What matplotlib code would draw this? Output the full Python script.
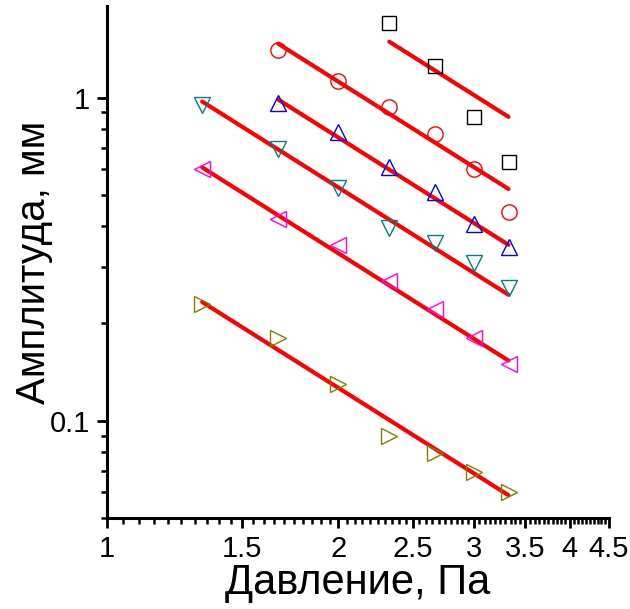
import matplotlib
matplotlib.use("Agg")
import matplotlib.pyplot as plt
import numpy as np
from matplotlib.ticker import FixedLocator, MultipleLocator, NullFormatter, FuncFormatter

plt.rcParams["font.family"] = ["Liberation Sans", "DejaVu Sans"]

# давление, Па (общая сетка точек)
pressure = [1.33, 1.67, 2.0, 2.33, 2.67, 3.0, 3.33]

# амплитуда, мм — по сериям
amp_square = [1.70, 1.255, 0.868, 0.630]           # с 2.33 Па
amp_circle = [1.406, 1.128, 0.938, 0.769, 0.600, 0.442]   # с 1.67 Па
amp_up = [0.965, 0.780, 0.608, 0.509, 0.406, 0.344]       # с 1.67 Па
amp_down = [0.951, 0.691, 0.524, 0.394, 0.354, 0.307, 0.257]
amp_left = [0.600, 0.420, 0.349, 0.270, 0.222, 0.180, 0.150]
amp_right = [0.2296, 0.180, 0.130, 0.0899, 0.0797, 0.0696, 0.060]

# аппроксимация A ~ P^n, значение A в начальной точке
fit_exponent = -1.5
fit_start = [1.489, 1.468, 0.986, 0.972, 0.608, 0.233]

series = [
    (pressure[3:], amp_square, "s", "black", 10),
    (pressure[1:], amp_circle, "o", "red", 11),
    (pressure[1:], amp_up, "^", "blue", 12),
    (pressure, amp_down, "v", "#008080", 12),
    (pressure, amp_left, "<", "#FF00FF", 12),
    (pressure, amp_right, ">", "#808000", 12),
]

fig = plt.figure(figsize=(6.3, 6.09), dpi=100)
ax = fig.add_axes([107 / 630, 91 / 609, 502 / 630, 512 / 609])

for (xs, ys, marker, color, ms), a0 in zip(series, fit_start):
    ax.plot(xs, ys, linestyle="none", marker=marker, markersize=ms,
            markerfacecolor="none", markeredgecolor=color, markeredgewidth=1.0, zorder=3)
    xf = np.array([xs[0], xs[-1]])
    ax.plot(xf, a0 * (xf / xs[0]) ** fit_exponent, color="red", linewidth=3,
            solid_capstyle="round", zorder=2)

ax.set_xscale("log")
ax.set_yscale("log")
ax.set_xlim(1, 4.5)
ax.set_ylim(0.05, 1.92)

ax.xaxis.set_major_locator(FixedLocator([1, 1.5, 2, 2.5, 3, 3.5, 4, 4.5]))
ax.xaxis.set_minor_locator(MultipleLocator(0.05))
ax.xaxis.set_major_formatter(FuncFormatter(lambda v, p: f"{v:g}"))
ax.xaxis.set_minor_formatter(NullFormatter())

ax.yaxis.set_major_locator(FixedLocator([0.1, 1]))
ax.yaxis.set_minor_locator(FixedLocator([0.05, 0.06, 0.07, 0.08, 0.09] + [0.1 * k for k in range(2, 10)]))
ax.yaxis.set_major_formatter(FuncFormatter(lambda v, p: f"{v:g}"))
ax.yaxis.set_minor_formatter(NullFormatter())

for side in ("top", "right"):
    ax.spines[side].set_visible(False)
for side in ("left", "bottom"):
    ax.spines[side].set_linewidth(2.2)

ax.tick_params(which="major", direction="out", length=7, width=2, labelsize=21, pad=5)
ax.tick_params(which="minor", direction="out", length=4, width=1.8)

ax.set_xlabel("Давление, Па", fontsize=30, labelpad=0)
ax.set_ylabel("Амплитуда, мм", fontsize=29, labelpad=-2)

fig.savefig("out.png", dpi=100)
